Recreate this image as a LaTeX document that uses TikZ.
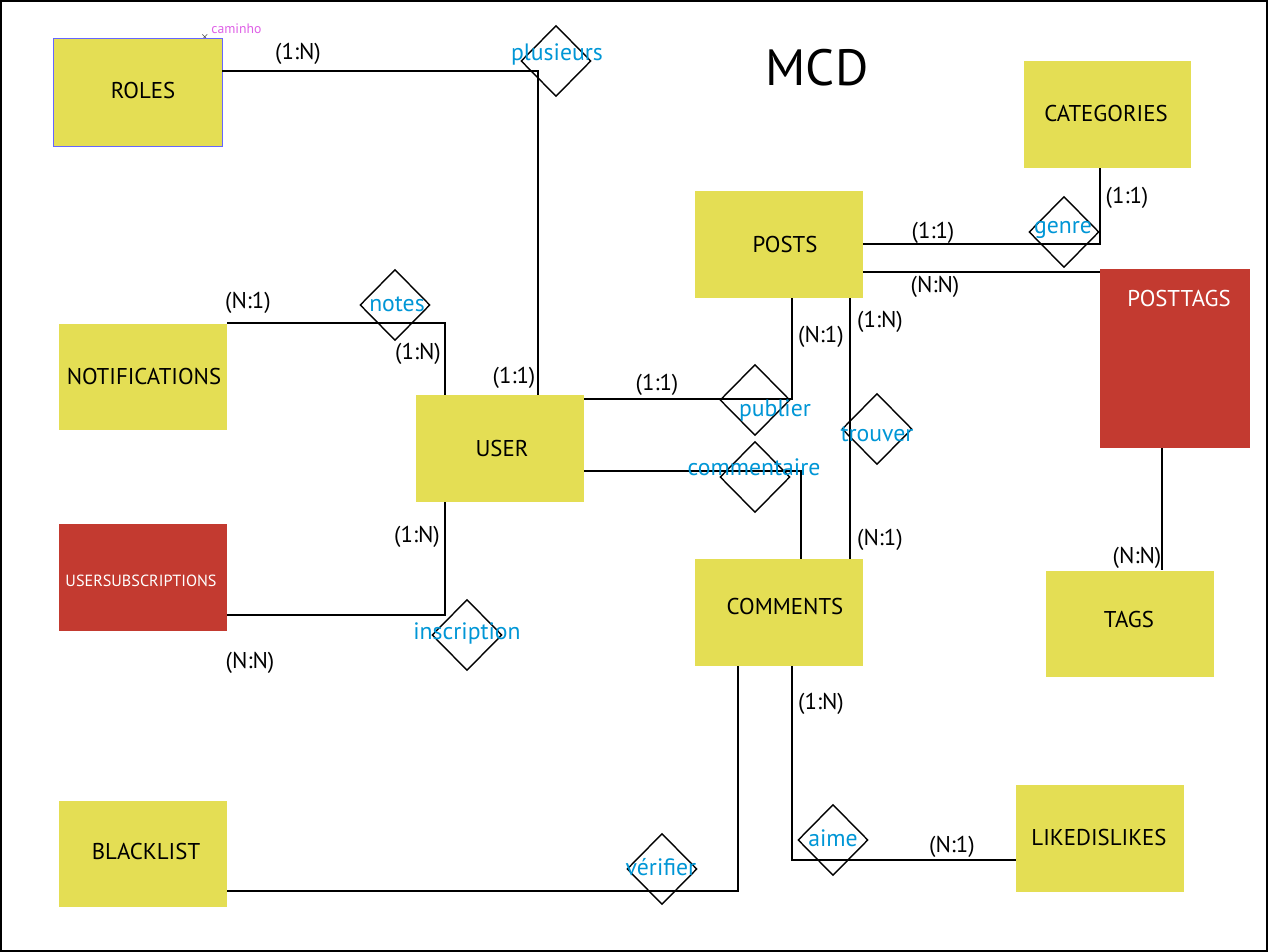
\documentclass[tikz,border=0pt]{standalone}
\usepackage{fontspec}
\setmainfont{PT Sans}
\usetikzlibrary{shapes.geometric}
\definecolor{entyellow}{RGB}{228,222,84}
\definecolor{entred}{RGB}{195,58,48}
\definecolor{relblue}{RGB}{0,150,214}
\definecolor{pathpink}{RGB}{222,96,230}

\begin{document}
\begin{tikzpicture}[x=0.02cm, y=-0.02cm,
  entity/.style={fill=entyellow, minimum width=3.36cm, minimum height=2.14cm,
    inner sep=0pt},
  ename/.style={font=\fontsize{13}{15}\selectfont, inner sep=0pt},
  assoc/.style={draw, shape=diamond, minimum width=1.4cm, minimum height=1.42cm,
    inner sep=0pt, line width=0.8pt},
  rel/.style={text=relblue, font=\fontsize{13.5}{16}\selectfont, inner sep=0pt},
  card/.style={font=\fontsize{13}{15}\selectfont, inner sep=0pt},
  link/.style={line width=1.1pt}]
  \useasboundingbox (0,0) rectangle (1268,952);
  \draw[line width=1.2pt] (0.6,0.6) rectangle (1267.4,951.4);

  % ---- titre ----
  \node[font=\fontsize{29}{34}\selectfont] (title) at (817,68) {MCD};
  \node[text=pathpink, font=\fontsize{7.8}{9}\selectfont, anchor=west, inner sep=0pt] (caminho) at (211,29) {caminho};
  \node[font=\tiny, inner sep=0pt] (cross) at (205,37) {$\times$};

  % ---- entites ----
  \node[entity, draw=blue!60, line width=0.5pt, minimum width=3.38cm, minimum height=2.16cm]
    (roles) at (137.5,92) {};
  \node[entity] (categories) at (1107.5,114.5) {};
  \node[entity] (posts) at (779,244.5) {};
  \node[entity, fill=entred, minimum width=3cm, minimum height=3.58cm] (posttags) at (1175,358.5) {};
  \node[entity] (notifications) at (143,377) {};
  \node[entity] (user) at (500,448.5) {};
  \node[entity, fill=entred] (usersubs) at (143,577.5) {};
  \node[entity] (comments) at (779,612.5) {};
  \node[entity] (tags) at (1130,624) {};
  \node[entity] (blacklist) at (143,854) {};
  \node[entity] (likedislikes) at (1100,838.5) {};

  % ---- noms des entites ----
  \foreach \n/\x/\y/\t in {roles/143/91/ROLES, categories/1106/114/CATEGORIES,
    posts/785/245/POSTS, notifications/144/377/NOTIFICATIONS, user/502/449/USER,
    comments/785/607/COMMENTS, tags/1129/620/TAGS, blacklist/146/852/BLACKLIST,
    likedislikes/1099/838/LIKEDISLIKES}{%
    \node[ename] (\n name) at (\x,\y) {\t};
  }
  \node[ename, text=white] (posttagsname) at (1179,299) {POSTTAGS};
  \node[ename, text=white, font=\fontsize{9.2}{11}\selectfont] (usersubsname) at (141,581) {USERSUBSCRIPTIONS};

  % ---- associations (losanges) ----
  \foreach \n/\x/\y in {plusieurs/556/61, genre/1064/232, notes/395/305,
    publier/755/400, commentaire/755/477, trouver/877/429,
    inscription/467/635, verifier/662/869, aime/833/840}{%
    \node[assoc] (\n) at (\x,\y) {};
  }

  % ---- liens ----
  \draw[link] (roles.east |- 0,71) -| (user.north -| 538,0);
  \draw[link] (posts.east |- 0,244) -| (categories.south -| 1100,0);
  \draw[link] (posts.east |- 0,272) -- (posttags.west |- 0,272);
  \draw[link] (posttags.south -| 1162,0) -- (tags.north -| 1162,0);
  \draw[link] (notifications.north east) -| (user.north -| 445,0);
  \draw[link] (user.east |- 0,399) -| (posts.south -| 792,0);
  \draw[link] (user.east |- 0,471) -| (comments.north -| 801,0);
  \draw[link] (posts.south -| 850,0) -- (comments.north -| 850,0);
  \draw[link] (user.south -| 445,0) |- (usersubs.east |- 0,615);
  \draw[link] (comments.south -| 738,0) |- (blacklist.east |- 0,891);
  \draw[link] (comments.south -| 792,0) |- (likedislikes.west |- 0,860);

  % ---- noms des associations ----
  \foreach \n/\x/\y/\t in {plusieurs/557/54/plusieurs, genre/1063/230/genre,
    notes/397/304/notes, publier/775/410/publier, commentaire/754/467/commentaire,
    trouver/877/434/trouver, inscription/467/633/inscription,
    verifier/661/867/vérifier, aime/833/838/aime}{%
    \node[rel] (\n name) at (\x,\y) {\t};
  }

  % ---- cardinalites ----
  \foreach \i/\x/\y/\t in {1/298/54/(1:N), 2/514/378/(1:1), 3/933/233/(1:1),
    4/1127/198/(1:1), 5/935/287/(N:N), 6/1137/558/(N:N), 7/248/303/(N:1),
    8/418/354/(1:N), 9/657/385/(1:1), 10/821/337/(N:1), 11/880/322/(1:N),
    12/880/540/(N:1), 13/417/537/(1:N), 14/250/663/(N:N), 15/821/704/(1:N),
    16/952/847/(N:1)}{%
    \node[card] (card\i) at (\x,\y) {\t};
  }
\end{tikzpicture}
\end{document}
